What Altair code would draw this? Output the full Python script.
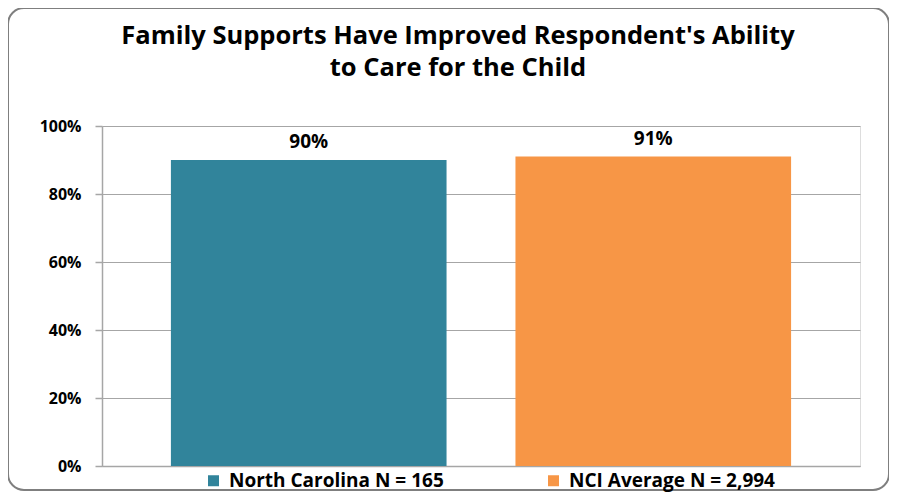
import altair as alt
import pandas as pd

categories = ["North Carolina N = 165", "NCI Average N = 2,994"]
values = [0.90, 0.91]
labels = ["90%", "91%"]
colors = ["#31849B", "#F79646"]
y_ticks = [0, 0.2, 0.4, 0.6, 0.8, 1.0]

df = pd.DataFrame({"group": categories, "value": values, "label": labels})

FONT = "Open Sans"

x_enc = alt.X(
    "group:N",
    sort=categories,
    scale=alt.Scale(paddingInner=0.2, paddingOuter=0.2),
    axis=alt.Axis(labels=False, ticks=False, title=None, grid=False,
                  domainColor="#A6A6A6", domainWidth=1.5),
)
y_enc = alt.Y(
    "value:Q",
    scale=alt.Scale(domain=[0, 1]),
    axis=alt.Axis(values=y_ticks, format=".0%", title=None,
                  labelFont=FONT, labelFontWeight="bold", labelFontSize=16,
                  labelColor="#000000", labelPadding=14,
                  tickColor="#A6A6A6", tickSize=7, tickWidth=1.5,
                  domainColor="#A6A6A6", domainWidth=1.5,
                  gridColor="#A6A6A6", gridWidth=1.2),
)

base = alt.Chart(df)

bars = base.mark_bar().encode(
    x=x_enc,
    y=y_enc,
    color=alt.Color(
        "group:N",
        sort=categories,
        scale=alt.Scale(domain=categories, range=colors),
        legend=alt.Legend(
            title=None, orient="none", legendX=102, legendY=345,
            direction="horizontal", columns=2, columnPadding=100,
            symbolType="square", symbolSize=121, symbolStrokeWidth=0,
            symbolOffset=0, labelOffset=6,
            labelFont=FONT, labelFontWeight="bold", labelFontSize=19,
            labelColor="#000000", labelLimit=400,
        ),
    ),
)

texts = base.mark_text(
    baseline="bottom", dy=-8, font=FONT, fontWeight="bold", fontSize=19, color="#000000"
).encode(x=alt.X("group:N", sort=categories), y="value:Q", text="label:N")

border = alt.Chart(pd.DataFrame({"a": [0]})).mark_rect(
    fill="transparent", stroke="#7F7F7F", strokeWidth=2, cornerRadius=16
).encode(x=alt.value(-94), x2=alt.value(787), y=alt.value(-118), y2=alt.value(364))

chart = alt.layer(bars, texts, border).properties(
    width=758,
    height=340,
    autosize=alt.AutoSizeParams(type="none"),
    padding={"left": 94, "top": 118, "right": 29, "bottom": 26},
    title=alt.TitleParams(
        ["Family Supports Have Improved Respondent's Ability", "to Care for the Child"],
        font=FONT, fontWeight="bold", fontSize=25.5, color="#000000",
        anchor="middle", frame="group", dx=-23, offset=0, dy=74, lineHeight=32,
    ),
).configure_view(fill="#EAEAEA", stroke=None).configure(background="#FFFFFF")

chart.save("out.html", embed_options={"renderer": "svg", "actions": False})
